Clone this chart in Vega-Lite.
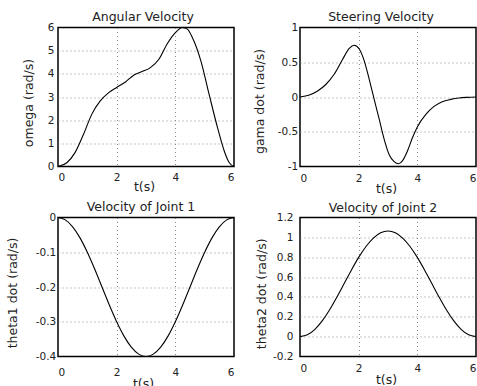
{
  "$schema": "https://vega.github.io/schema/vega-lite/v6.json",
  "padding": {"left": 5, "top": 9.5, "right": 0, "bottom": 0},
  "background": "white",
  "config": {
    "view": {"stroke": "black", "strokeWidth": 1.5},
    "axis": {
      "labelFont": "DejaVu Sans", "labelFontSize": 10.5, "labelColor": "#222",
      "titleFont": "DejaVu Sans", "titleFontSize": 12.5, "titleFontWeight": "normal", "titleColor": "#222",
      "domain": false, "ticks": false, "tickSize": 0,
      "grid": true, "gridColor": "#8a8a8a", "gridDash": [1, 3], "gridWidth": 1
    },
    "title": {"font": "DejaVu Sans", "fontSize": 12.5, "fontWeight": "normal", "color": "#222", "baseline": "alphabetic", "frame": "group", "anchor": "middle"}
  },
  "datasets": {
    "p1": [
      {"t": 0, "v": 0}, {"t": 0.3, "v": 0.16}, {"t": 0.58, "v": 0.6}, {"t": 0.87, "v": 1.39},
      {"t": 1.15, "v": 2.25}, {"t": 1.44, "v": 2.83}, {"t": 1.73, "v": 3.19}, {"t": 2.0, "v": 3.41},
      {"t": 2.3, "v": 3.65}, {"t": 2.58, "v": 3.94}, {"t": 2.87, "v": 4.1}, {"t": 3.15, "v": 4.27},
      {"t": 3.44, "v": 4.63}, {"t": 3.73, "v": 5.31}, {"t": 4.01, "v": 5.79}, {"t": 4.24, "v": 6.0},
      {"t": 4.41, "v": 5.93}, {"t": 4.58, "v": 5.57}, {"t": 4.87, "v": 4.56}, {"t": 5.15, "v": 3.12},
      {"t": 5.44, "v": 1.67}, {"t": 5.67, "v": 0.66}, {"t": 5.84, "v": 0.16}, {"t": 6, "v": 0}
    ],
    "p2": [
      {"t": 0, "v": 0}, {"t": 0.32, "v": 0.03}, {"t": 0.6, "v": 0.087}, {"t": 0.88, "v": 0.18},
      {"t": 1.17, "v": 0.33}, {"t": 1.45, "v": 0.54}, {"t": 1.68, "v": 0.7}, {"t": 1.85, "v": 0.745},
      {"t": 2.02, "v": 0.69}, {"t": 2.19, "v": 0.52}, {"t": 2.36, "v": 0.255}, {"t": 2.53, "v": -0.034},
      {"t": 2.7, "v": -0.32}, {"t": 2.87, "v": -0.61}, {"t": 3.04, "v": -0.83}, {"t": 3.21, "v": -0.93},
      {"t": 3.36, "v": -0.96}, {"t": 3.49, "v": -0.92}, {"t": 3.66, "v": -0.78}, {"t": 3.83, "v": -0.59},
      {"t": 4.0, "v": -0.43}, {"t": 4.29, "v": -0.25}, {"t": 4.57, "v": -0.135}, {"t": 4.85, "v": -0.067},
      {"t": 5.14, "v": -0.034}, {"t": 5.42, "v": -0.014}, {"t": 5.7, "v": -0.005}, {"t": 6, "v": 0}
    ],
    "p3": [
      {"t": 0, "v": 0}, {"t": 0.25, "v": -0.0068}, {"t": 0.5, "v": -0.0268}, {"t": 0.75, "v": -0.0586},
      {"t": 1, "v": -0.1}, {"t": 1.25, "v": -0.1482}, {"t": 1.5, "v": -0.2}, {"t": 1.75, "v": -0.2518},
      {"t": 2, "v": -0.3}, {"t": 2.25, "v": -0.3414}, {"t": 2.5, "v": -0.3732}, {"t": 2.75, "v": -0.3932},
      {"t": 3, "v": -0.4}, {"t": 3.25, "v": -0.3932}, {"t": 3.5, "v": -0.3732}, {"t": 3.75, "v": -0.3414},
      {"t": 4, "v": -0.3}, {"t": 4.25, "v": -0.2518}, {"t": 4.5, "v": -0.2}, {"t": 4.75, "v": -0.1482},
      {"t": 5, "v": -0.1}, {"t": 5.25, "v": -0.0586}, {"t": 5.5, "v": -0.0268}, {"t": 5.75, "v": -0.0068},
      {"t": 6, "v": 0}
    ],
    "p4": [
      {"t": 0, "v": 0}, {"t": 0.25, "v": 0.0181}, {"t": 0.5, "v": 0.0713}, {"t": 0.75, "v": 0.1558},
      {"t": 1, "v": 0.266}, {"t": 1.25, "v": 0.3943}, {"t": 1.5, "v": 0.532}, {"t": 1.75, "v": 0.6697},
      {"t": 2, "v": 0.798}, {"t": 2.25, "v": 0.9082}, {"t": 2.5, "v": 0.9927}, {"t": 2.75, "v": 1.0459},
      {"t": 3, "v": 1.064}, {"t": 3.25, "v": 1.0459}, {"t": 3.5, "v": 0.9927}, {"t": 3.75, "v": 0.9082},
      {"t": 4, "v": 0.798}, {"t": 4.25, "v": 0.6697}, {"t": 4.5, "v": 0.532}, {"t": 4.75, "v": 0.3943},
      {"t": 5, "v": 0.266}, {"t": 5.25, "v": 0.1558}, {"t": 5.5, "v": 0.0713}, {"t": 5.75, "v": 0.0181},
      {"t": 6, "v": 0}
    ]
  },
  "columns": 2,
  "bounds": "flush",
  "spacing": {"row": 51, "column": 66},
  "concat": [
    {
      "title": {"text": "Angular Velocity", "dx": -3, "offset": -1},
      "data": {"name": "p1"},
      "width": 176, "height": 139,
      "mark": {"type": "line", "color": "black", "strokeWidth": 1.1, "interpolate": "monotone"},
      "encoding": {
        "x": {"field": "t", "type": "quantitative", "scale": {"domain": [0, 6], "nice": false},
          "axis": {"values": [0, 2, 4, 6], "title": "t(s)", "titleX": 86, "titleY": 23.5, "titleBaseline": "alphabetic", "labelPadding": 6,
            "gridOpacity": {"condition": {"test": "datum.value === 0 || datum.value === 6", "value": 0}, "value": 1}}},
        "y": {"field": "v", "type": "quantitative", "scale": {"domain": [0, 6], "nice": false},
          "axis": {"values": [0, 1, 2, 3, 4, 5, 6], "title": "omega (rad/s)", "titleX": -29.3, "titleY": 75, "titleAngle": -90, "titleBaseline": "middle", "titleAlign": "center", "labelPadding": 4, "labelExpr": "'' + datum.value",
            "gridOpacity": {"condition": {"test": "datum.value === 0 || datum.value === 6", "value": 0}, "value": 1}}}
      }
    },
    {
      "title": {"text": "Steering Velocity", "dx": -7, "offset": -1},
      "data": {"name": "p2"},
      "width": 176, "height": 139,
      "mark": {"type": "line", "color": "black", "strokeWidth": 1.1, "interpolate": "monotone"},
      "encoding": {
        "x": {"field": "t", "type": "quantitative", "scale": {"domain": [0, 6], "nice": false},
          "axis": {"values": [0, 2, 4, 6], "title": "t(s)", "titleX": 86, "titleY": 25.5, "titleBaseline": "alphabetic", "labelPadding": 6.5,
            "gridOpacity": {"condition": {"test": "datum.value === 0 || datum.value === 6", "value": 0}, "value": 1}}},
        "y": {"field": "v", "type": "quantitative", "scale": {"domain": [-1, 1], "nice": false},
          "axis": {"values": [-1, -0.5, 0, 0.5, 1], "title": "gama dot (rad/s)", "titleX": -40.6, "titleY": 73.5, "titleAngle": -90, "titleBaseline": "middle", "titleAlign": "center", "labelPadding": 2.3, "labelExpr": "'' + datum.value",
            "gridOpacity": {"condition": {"test": "datum.value === -1 || datum.value === 1", "value": 0}, "value": 1}}}
      }
    },
    {
      "title": {"text": "Velocity of Joint 1", "dx": -5, "offset": -1},
      "data": {"name": "p3"},
      "width": 176, "height": 139,
      "mark": {"type": "line", "color": "black", "strokeWidth": 1.1, "interpolate": "monotone"},
      "encoding": {
        "x": {"field": "t", "type": "quantitative", "scale": {"domain": [0, 6], "nice": false},
          "axis": {"values": [0, 2, 4, 6], "title": "t(s)", "titleX": 85, "titleY": 31, "titleBaseline": "alphabetic", "labelPadding": 10.5,
            "gridOpacity": {"condition": {"test": "datum.value === 0 || datum.value === 6", "value": 0}, "value": 1}}},
        "y": {"field": "v", "type": "quantitative", "scale": {"domain": [-0.4, 0], "nice": false},
          "axis": {"values": [-0.4, -0.3, -0.2, -0.1, 0], "title": "theta1 dot (rad/s)", "titleX": -45.6, "titleY": 75, "titleAngle": -90, "titleBaseline": "middle", "titleAlign": "center", "labelPadding": 2.3, "labelExpr": "'' + datum.value",
            "gridOpacity": {"condition": {"test": "datum.value === -0.4 || datum.value === 0", "value": 0}, "value": 1}}}
      }
    },
    {
      "title": {"text": "Velocity of Joint 2", "dx": -5, "offset": -2},
      "data": {"name": "p4"},
      "width": 176, "height": 139,
      "mark": {"type": "line", "color": "black", "strokeWidth": 1.1, "interpolate": "monotone"},
      "encoding": {
        "x": {"field": "t", "type": "quantitative", "scale": {"domain": [0, 6], "nice": false},
          "axis": {"values": [0, 2, 4, 6], "title": "t(s)", "titleX": 86, "titleY": 26.5, "titleBaseline": "alphabetic", "labelPadding": 7,
            "gridOpacity": {"condition": {"test": "datum.value === 0 || datum.value === 6", "value": 0}, "value": 1}}},
        "y": {"field": "v", "type": "quantitative", "scale": {"domain": [-0.2, 1.2], "nice": false},
          "axis": {"values": [-0.2, 0, 0.2, 0.4, 0.6, 0.8, 1, 1.2], "title": "theta2 dot (rad/s)", "titleX": -39, "titleY": 75.8, "titleAngle": -90, "titleBaseline": "middle", "titleAlign": "center", "labelPadding": 7, "labelExpr": "'' + datum.value",
            "gridOpacity": {"condition": {"test": "datum.value === -0.2 || datum.value === 1.2", "value": 0}, "value": 1}}}
      }
    }
  ]
}
